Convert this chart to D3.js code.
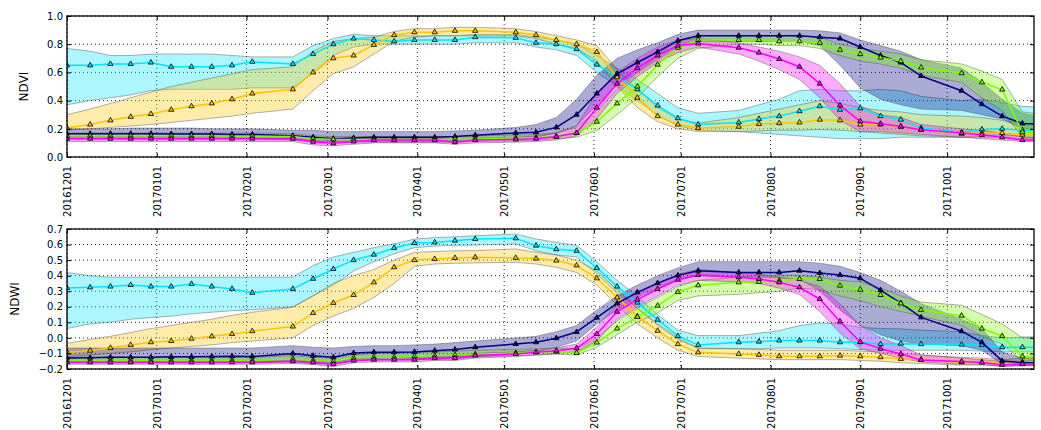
<!DOCTYPE html>
<html>
<head>
<meta charset="utf-8">
<script src="https://cdn.jsdelivr.net/npm/d3@7"></script>
<style>
  body { margin: 0; background: #fff; }
  svg { display: block; font-family: "DejaVu Sans", sans-serif; }
</style>
</head>
<body>
<svg id="chart"></svg>
<script>
// acquisition dates (gaps are missing scenes)
const dates = [
  "2016-12-01","2016-12-09","2016-12-16","2016-12-23","2016-12-30","2017-01-06","2017-01-13","2017-01-20","2017-01-27","2017-02-03",
  "2017-02-17","2017-02-24","2017-03-03","2017-03-10","2017-03-17","2017-03-24","2017-03-31","2017-04-07","2017-04-14","2017-04-21",
  "2017-05-05","2017-05-12","2017-05-19","2017-05-26","2017-06-02","2017-06-09","2017-06-16","2017-06-23","2017-06-30","2017-07-07",
  "2017-07-21","2017-07-28","2017-08-04","2017-08-11","2017-08-18","2017-08-25","2017-09-01","2017-09-08","2017-09-15","2017-09-22",
  "2017-10-06","2017-10-13","2017-10-20","2017-10-27","2017-11-03"
];
const monthTicks = ["20161201","20170101","20170201","20170301","20170401","20170501",
  "20170601","20170701","20170801","20170901","20171001"];
const ndviTicks = [0.0, 0.2, 0.4, 0.6, 0.8, 1.0];
const ndwiTicks = [-0.2, -0.1, 0.0, 0.1, 0.2, 0.3, 0.4, 0.5, 0.6, 0.7];

// ---- NDVI ----
const ndviCyanMean = [0.65,0.65,0.66,0.66,0.67,0.64,0.64,0.64,0.65,0.675, 0.66,0.73,0.80,0.84,0.83,0.82,0.83,0.83,0.83,0.85,
  0.845,0.81,0.80,0.765,0.655,0.57,0.48,0.365,0.275,0.23, 0.245,0.27,0.29,0.325,0.36,0.335,0.345,0.29,0.265,0.205, 0.175,0.195,0.20,0.19,0.19];
const ndviCyanHigh = [0.77,0.75,0.72,0.72,0.73,0.73,0.73,0.73,0.72,0.71, 0.71,0.79,0.84,0.87,0.86,0.86,0.86,0.86,0.86,0.87,
  0.87,0.85,0.83,0.80,0.72,0.63,0.55,0.45,0.35,0.31, 0.33,0.37,0.41,0.47,0.48,0.47,0.47,0.48,0.47,0.43, 0.40,0.41,0.385,0.36,0.35];
const ndviCyanLow = [0.37,0.40,0.42,0.44,0.47,0.48,0.48,0.48,0.48,0.49, 0.49,0.60,0.72,0.78,0.80,0.80,0.80,0.80,0.80,0.81,
  0.81,0.78,0.76,0.72,0.60,0.50,0.40,0.30,0.22,0.19, 0.18,0.17,0.16,0.15,0.14,0.13,0.13,0.13,0.14,0.14, 0.14,0.15,0.15,0.15,0.15];

const ndviYellowMean = [0.205,0.23,0.26,0.285,0.305,0.335,0.36,0.38,0.41,0.45, 0.48,0.60,0.70,0.72,0.795,0.865,0.885,0.885,0.895,0.895,
  0.885,0.865,0.83,0.80,0.745,0.565,0.42,0.29,0.23,0.205, 0.215,0.235,0.24,0.245,0.265,0.26,0.23,0.23,0.215,0.195, 0.165,0.17,0.17,0.158,0.155];
const ndviYellowHigh = [0.30,0.34,0.38,0.42,0.46,0.50,0.53,0.56,0.59,0.62, 0.64,0.75,0.82,0.84,0.85,0.89,0.91,0.91,0.92,0.92,
  0.91,0.89,0.86,0.83,0.79,0.62,0.48,0.35,0.27,0.24, 0.28,0.31,0.34,0.37,0.40,0.38,0.35,0.33,0.32,0.30, 0.29,0.28,0.26,0.23,0.22];
const ndviYellowLow = [0.19,0.20,0.21,0.22,0.23,0.245,0.26,0.275,0.29,0.31, 0.34,0.47,0.59,0.64,0.73,0.82,0.85,0.86,0.86,0.86,
  0.86,0.84,0.80,0.77,0.68,0.50,0.35,0.25,0.20,0.18, 0.18,0.185,0.19,0.19,0.195,0.19,0.18,0.17,0.16,0.15, 0.14,0.14,0.14,0.13,0.13];

const ndviNavyMean = [0.165,0.165,0.165,0.165,0.165,0.163,0.163,0.163,0.16,0.16, 0.15,0.14,0.13,0.135,0.14,0.14,0.14,0.14,0.145,0.155,
  0.17,0.175,0.21,0.30,0.45,0.59,0.67,0.745,0.825,0.86, 0.86,0.86,0.86,0.86,0.85,0.84,0.78,0.72,0.67,0.575, 0.47,0.375,0.29,0.238,0.235];
const ndviNavyHigh = [0.20,0.20,0.20,0.205,0.205,0.205,0.205,0.20,0.20,0.20, 0.19,0.19,0.18,0.18,0.18,0.18,0.18,0.18,0.185,0.19,
  0.21,0.23,0.28,0.41,0.58,0.70,0.76,0.81,0.87,0.90, 0.90,0.90,0.90,0.90,0.895,0.88,0.83,0.79,0.75,0.69, 0.63,0.53,0.41,0.31,0.28];
const ndviNavyLow = [0.13,0.13,0.13,0.13,0.13,0.13,0.13,0.13,0.13,0.13, 0.12,0.11,0.11,0.11,0.11,0.11,0.11,0.11,0.115,0.12,
  0.13,0.14,0.17,0.22,0.37,0.51,0.60,0.69,0.78,0.82, 0.82,0.82,0.82,0.82,0.79,0.65,0.49,0.41,0.37,0.34, 0.33,0.30,0.27,0.20,0.19];

const ndviGreenMean = [0.15,0.15,0.15,0.15,0.15,0.15,0.15,0.15,0.148,0.148, 0.145,0.13,0.125,0.125,0.125,0.125,0.125,0.125,0.125,0.13,
  0.135,0.135,0.145,0.17,0.25,0.38,0.50,0.655,0.775,0.83, 0.83,0.83,0.82,0.82,0.81,0.76,0.73,0.705,0.68,0.635, 0.595,0.53,0.478,0.175,0.17];
const ndviGreenHigh = [0.17,0.17,0.17,0.17,0.17,0.17,0.17,0.17,0.17,0.17, 0.165,0.15,0.145,0.145,0.145,0.145,0.145,0.145,0.145,0.15,
  0.155,0.16,0.17,0.21,0.33,0.48,0.60,0.72,0.83,0.86, 0.86,0.86,0.86,0.86,0.85,0.80,0.77,0.75,0.73,0.69, 0.66,0.61,0.55,0.32,0.30];
const ndviGreenLow = [0.13,0.13,0.13,0.13,0.13,0.13,0.13,0.13,0.13,0.13, 0.125,0.11,0.105,0.105,0.105,0.105,0.105,0.105,0.105,0.11,
  0.115,0.12,0.13,0.14,0.19,0.30,0.42,0.57,0.70,0.77, 0.80,0.80,0.79,0.79,0.77,0.72,0.68,0.66,0.63,0.58, 0.53,0.42,0.33,0.14,0.14];

const ndviMagentaMean = [0.13,0.13,0.13,0.13,0.13,0.13,0.13,0.13,0.13,0.13, 0.13,0.108,0.097,0.11,0.12,0.12,0.12,0.12,0.105,0.12,
  0.125,0.13,0.145,0.17,0.35,0.52,0.63,0.72,0.79,0.805, 0.775,0.74,0.695,0.64,0.52,0.366,0.253,0.236,0.217,0.193, 0.17,0.157,0.14,0.12,0.12];
const ndviMagentaHigh = [0.15,0.15,0.15,0.15,0.15,0.15,0.15,0.15,0.15,0.15, 0.15,0.13,0.12,0.13,0.135,0.135,0.135,0.135,0.125,0.135,
  0.14,0.15,0.17,0.22,0.45,0.60,0.70,0.78,0.83,0.84, 0.81,0.78,0.75,0.71,0.65,0.52,0.36,0.30,0.28,0.23, 0.20,0.19,0.17,0.14,0.14];
const ndviMagentaLow = [0.11,0.11,0.11,0.11,0.11,0.11,0.11,0.11,0.11,0.11, 0.11,0.085,0.08,0.09,0.10,0.10,0.10,0.10,0.09,0.10,
  0.105,0.11,0.12,0.15,0.27,0.45,0.57,0.67,0.74,0.78, 0.73,0.68,0.62,0.55,0.42,0.26,0.18,0.18,0.17,0.16, 0.14,0.13,0.12,0.11,0.11];

// ---- NDWI ----
const ndwiCyanMean = [0.32,0.325,0.33,0.34,0.33,0.33,0.347,0.33,0.315,0.29, 0.315,0.38,0.443,0.50,0.535,0.578,0.61,0.614,0.625,0.636,
  0.64,0.593,0.57,0.56,0.45,0.33,0.227,0.117,0.012,-0.045, -0.028,-0.024,-0.017,-0.017,-0.017,-0.028,-0.028,-0.04,-0.037,-0.04, -0.043,-0.045,-0.06,-0.06,-0.06];
const ndwiCyanHigh = [0.42,0.40,0.39,0.39,0.39,0.39,0.39,0.39,0.39,0.39, 0.39,0.465,0.52,0.55,0.58,0.605,0.635,0.645,0.65,0.657,
  0.668,0.636,0.614,0.595,0.49,0.37,0.27,0.15,0.05,0.015, 0.015,0.03,0.047,0.079,0.096,0.09,0.068,0.06,0.058,0.05, 0.04,0.015,0.0,0.005,0.01];
const ndwiCyanLow = [0.06,0.09,0.10,0.12,0.13,0.14,0.155,0.165,0.175,0.18, 0.20,0.27,0.34,0.43,0.49,0.54,0.58,0.59,0.595,0.597,
  0.604,0.56,0.533,0.52,0.41,0.29,0.19,0.08,-0.01,-0.07, -0.07,-0.07,-0.065,-0.065,-0.065,-0.07,-0.075,-0.08,-0.08,-0.08, -0.08,-0.085,-0.09,-0.09,-0.09];

const ndwiYellowMean = [-0.092,-0.082,-0.064,-0.045,-0.028,-0.02,-0.005,0.01,0.025,0.043, 0.073,0.16,0.225,0.276,0.357,0.454,0.50,0.507,0.514,0.518,
  0.514,0.51,0.497,0.466,0.383,0.26,0.138,0.046,-0.04,-0.093, -0.103,-0.109,-0.118,-0.118,-0.118,-0.114,-0.118,-0.124,-0.135,-0.139, -0.156,-0.156,-0.167,-0.156,-0.155];
const ndwiYellowHigh = [-0.035,-0.01,0.01,0.035,0.06,0.08,0.10,0.12,0.145,0.165, 0.197,0.27,0.35,0.40,0.44,0.50,0.55,0.555,0.56,0.561,
  0.572,0.55,0.533,0.50,0.43,0.31,0.19,0.09,0.0,-0.065, -0.07,-0.075,-0.08,-0.08,-0.08,-0.08,-0.085,-0.09,-0.10,-0.11, -0.125,-0.13,-0.14,-0.13,-0.13];
const ndwiYellowLow = [-0.12,-0.11,-0.10,-0.09,-0.075,-0.065,-0.055,-0.045,-0.03,-0.02, 0.0,0.08,0.14,0.19,0.26,0.35,0.46,0.475,0.48,0.482,
  0.486,0.475,0.454,0.42,0.34,0.21,0.09,0.0,-0.08,-0.12, -0.13,-0.135,-0.14,-0.14,-0.14,-0.14,-0.145,-0.15,-0.16,-0.165, -0.175,-0.175,-0.18,-0.175,-0.175];

const ndwiNavyMean = [-0.13,-0.128,-0.125,-0.125,-0.125,-0.122,-0.122,-0.12,-0.118,-0.12, -0.10,-0.115,-0.125,-0.097,-0.092,-0.092,-0.09,-0.082,-0.075,-0.06,
  -0.039,-0.028,-0.002,0.038,0.13,0.222,0.293,0.352,0.402,0.432, 0.421,0.421,0.421,0.432,0.417,0.404,0.383,0.307,0.224,0.132, 0.043,-0.029,-0.148,-0.16,-0.16];
const ndwiNavyHigh = [-0.065,-0.065,-0.065,-0.065,-0.065,-0.065,-0.065,-0.065,-0.065,-0.065, -0.05,-0.06,-0.065,-0.055,-0.05,-0.05,-0.045,-0.04,-0.03,-0.02,
  0.0,0.01,0.04,0.08,0.18,0.27,0.34,0.40,0.45,0.49, 0.49,0.49,0.49,0.49,0.48,0.46,0.42,0.37,0.30,0.22, 0.12,0.06,-0.09,-0.13,-0.13];
const ndwiNavyLow = [-0.16,-0.16,-0.16,-0.16,-0.16,-0.16,-0.16,-0.16,-0.16,-0.16, -0.15,-0.165,-0.17,-0.145,-0.14,-0.14,-0.14,-0.14,-0.135,-0.125,
  -0.10,-0.09,-0.06,-0.02,0.09,0.18,0.26,0.32,0.37,0.40, 0.39,0.39,0.385,0.38,0.30,0.18,0.08,0.02,-0.02,-0.04, -0.05,-0.08,-0.17,-0.175,-0.175];

const ndwiGreenMean = [-0.145,-0.145,-0.145,-0.145,-0.145,-0.145,-0.145,-0.145,-0.145,-0.145, -0.135,-0.145,-0.15,-0.13,-0.125,-0.125,-0.12,-0.115,-0.11,-0.105,
  -0.097,-0.092,-0.088,-0.097,-0.03,0.06,0.135,0.207,0.295,0.338, 0.357,0.36,0.368,0.379,0.379,0.336,0.31,0.276,0.222,0.18, 0.143,0.06,0.012,-0.119,-0.12];
const ndwiGreenHigh = [-0.125,-0.125,-0.125,-0.125,-0.125,-0.125,-0.125,-0.125,-0.125,-0.125, -0.115,-0.125,-0.13,-0.11,-0.10,-0.10,-0.095,-0.09,-0.085,-0.08,
  -0.075,-0.07,-0.065,-0.07,0.0,0.11,0.19,0.26,0.33,0.37, 0.39,0.40,0.40,0.40,0.39,0.37,0.36,0.32,0.27,0.23, 0.21,0.15,0.09,0.0,0.0];
const ndwiGreenLow = [-0.16,-0.16,-0.16,-0.16,-0.16,-0.16,-0.16,-0.16,-0.16,-0.16, -0.155,-0.165,-0.17,-0.15,-0.14,-0.14,-0.135,-0.13,-0.125,-0.12,
  -0.115,-0.11,-0.105,-0.11,-0.06,0.02,0.10,0.16,0.24,0.27, 0.28,0.29,0.30,0.32,0.31,0.27,0.24,0.20,0.17,0.14, 0.08,0.01,-0.04,-0.15,-0.15];

const ndwiMagentaMean = [-0.157,-0.157,-0.157,-0.157,-0.157,-0.157,-0.157,-0.157,-0.157,-0.157, -0.15,-0.157,-0.168,-0.146,-0.14,-0.14,-0.14,-0.13,-0.13,-0.113,
  -0.103,-0.092,-0.082,-0.066,0.025,0.168,0.246,0.314,0.374,0.404, 0.39,0.379,0.357,0.325,0.25,0.105,-0.026,-0.069,-0.103,-0.142, -0.152,-0.158,-0.173,-0.168,-0.165];
const ndwiMagentaHigh = [-0.145,-0.145,-0.145,-0.145,-0.145,-0.145,-0.145,-0.145,-0.145,-0.145, -0.138,-0.145,-0.155,-0.133,-0.125,-0.125,-0.125,-0.115,-0.115,-0.10,
  -0.09,-0.08,-0.065,-0.04,0.07,0.22,0.29,0.35,0.41,0.44, 0.42,0.41,0.39,0.37,0.33,0.22,0.08,0.0,-0.05,-0.11, -0.13,-0.14,-0.15,-0.15,-0.15];
const ndwiMagentaLow = [-0.17,-0.17,-0.17,-0.17,-0.17,-0.17,-0.17,-0.17,-0.17,-0.17, -0.165,-0.172,-0.185,-0.16,-0.155,-0.155,-0.155,-0.145,-0.145,-0.13,
  -0.12,-0.11,-0.10,-0.09,-0.02,0.12,0.20,0.27,0.34,0.37, 0.36,0.35,0.32,0.28,0.17,0.03,-0.07,-0.10,-0.13,-0.155, -0.17,-0.17,-0.185,-0.18,-0.18];

const width = 1041, height = 430;
const left = 67, right = 1034;
const parseDay = d3.utcParse("%Y-%m-%d");
const parseTick = d3.utcParse("%Y%m%d");
const days = dates.map(parseDay);

const svg = d3.select("#chart").attr("width", width).attr("height", height);

const x = d3.scaleUtc()
    .domain([parseDay("2016-12-01"), parseDay("2017-10-31")])
    .range([left, right]);

function panel(id, top, bottom, yDomain, yTicks, label, labelX, series) {
    const y = d3.scaleLinear().domain(yDomain).range([bottom, top]);
    const g = svg.append("g");

    g.append("clipPath").attr("id", id)
        .append("rect")
        .attr("x", left).attr("y", top)
        .attr("width", right - left).attr("height", bottom - top);

    // grid
    const grid = g.append("g")
        .attr("stroke", "#000")
        .attr("stroke-width", 1)
        .attr("stroke-dasharray", "1,3")
        .attr("stroke-opacity", 0.85);
    grid.selectAll("line.gx")
        .data(monthTicks.map(parseTick))
        .enter().append("line")
        .attr("x1", d => x(d)).attr("x2", d => x(d))
        .attr("y1", top).attr("y2", bottom);
    grid.selectAll("line.gy")
        .data(yTicks)
        .enter().append("line")
        .attr("x1", left).attr("x2", right)
        .attr("y1", d => y(d)).attr("y2", d => y(d));

    const plot = g.append("g").attr("clip-path", `url(#${id})`);

    const area = d3.area()
        .x(d => x(d.date))
        .y0(d => y(d.low))
        .y1(d => y(d.high));
    const line = d3.line()
        .x(d => x(d.date))
        .y(d => y(d.mean));

    const rows = series.map(s => days.map((date, i) => ({
        date: date, mean: s.mean[i], low: s.low[i], high: s.high[i]
    })));

    plot.selectAll("path.band")
        .data(rows)
        .enter().append("path")
        .attr("class", "band")
        .attr("d", area)
        .attr("fill", (d, i) => series[i].color)
        .attr("fill-opacity", 0.33)
        .attr("stroke", "#555")
        .attr("stroke-opacity", 0.45)
        .attr("stroke-width", 1);

    rows.forEach(function (r, i) {
        plot.append("path")
            .datum(r)
            .attr("d", line)
            .attr("fill", "none")
            .attr("stroke", series[i].color)
            .attr("stroke-width", 1.5)
            .attr("stroke-linejoin", "round");

        plot.selectAll(null)
            .data(r)
            .enter().append("path")
            .attr("d", d3.symbol(d3.symbolTriangle, 12))
            .attr("transform", d => `translate(${x(d.date)},${y(d.mean)})`)
            .attr("fill", series[i].color)
            .attr("stroke", "#000")
            .attr("stroke-width", 0.8);
    });

    // frame
    g.append("rect")
        .attr("x", left).attr("y", top)
        .attr("width", right - left).attr("height", bottom - top)
        .attr("fill", "none")
        .attr("stroke", "#000")
        .attr("stroke-width", 1.3);

    const tickDates = monthTicks.map(parseTick);
    const fmt = d3.format(".1f");

    g.append("g")
        .attr("transform", `translate(0,${bottom})`)
        .call(d3.axisBottom(x).tickValues(tickDates).tickSize(-4).tickFormat(d3.utcFormat("%Y%m%d")))
        .call(a => a.select(".domain").remove())
        .call(a => a.selectAll("text")
            .attr("transform", "rotate(-90)")
            .attr("x", -9)
            .attr("y", 0)
            .attr("dy", "0.35em")
            .style("text-anchor", "end"))
        .attr("font-family", "DejaVu Sans")
        .attr("font-size", 10);

    g.append("g")
        .attr("transform", `translate(0,${top})`)
        .call(d3.axisTop(x).tickValues(tickDates).tickSize(-4).tickFormat(""))
        .call(a => a.select(".domain").remove());

    g.append("g")
        .attr("transform", `translate(${left},0)`)
        .call(d3.axisLeft(y).tickValues(yTicks).tickSize(-4).tickPadding(4).tickFormat(fmt))
        .call(a => a.select(".domain").remove())
        .attr("font-family", "DejaVu Sans")
        .attr("font-size", 10);

    g.append("g")
        .attr("transform", `translate(${right},0)`)
        .call(d3.axisRight(y).tickValues(yTicks).tickSize(-4).tickFormat(""))
        .call(a => a.select(".domain").remove());

    g.append("text")
        .attr("transform", `translate(${labelX},${(top + bottom) / 2}) rotate(-90)`)
        .attr("text-anchor", "middle")
        .attr("font-size", 12)
        .text(label);
}

const colors = {
    cyan: "#00e5ff", yellow: "#ffc400", navy: "#000080", green: "#7cfc00", magenta: "#ff00ff"
};

panel("clipNdvi", 16, 157, [0, 1], ndviTicks, "NDVI", 28, [
    {color: colors.cyan, mean: ndviCyanMean, low: ndviCyanLow, high: ndviCyanHigh},
    {color: colors.yellow, mean: ndviYellowMean, low: ndviYellowLow, high: ndviYellowHigh},
    {color: colors.navy, mean: ndviNavyMean, low: ndviNavyLow, high: ndviNavyHigh},
    {color: colors.green, mean: ndviGreenMean, low: ndviGreenLow, high: ndviGreenHigh},
    {color: colors.magenta, mean: ndviMagentaMean, low: ndviMagentaLow, high: ndviMagentaHigh}
]);

panel("clipNdwi", 229, 369, [-0.2, 0.7], ndwiTicks, "NDWI", 19, [
    {color: colors.cyan, mean: ndwiCyanMean, low: ndwiCyanLow, high: ndwiCyanHigh},
    {color: colors.yellow, mean: ndwiYellowMean, low: ndwiYellowLow, high: ndwiYellowHigh},
    {color: colors.navy, mean: ndwiNavyMean, low: ndwiNavyLow, high: ndwiNavyHigh},
    {color: colors.green, mean: ndwiGreenMean, low: ndwiGreenLow, high: ndwiGreenHigh},
    {color: colors.magenta, mean: ndwiMagentaMean, low: ndwiMagentaLow, high: ndwiMagentaHigh}
]);
</script>
</body>
</html>
